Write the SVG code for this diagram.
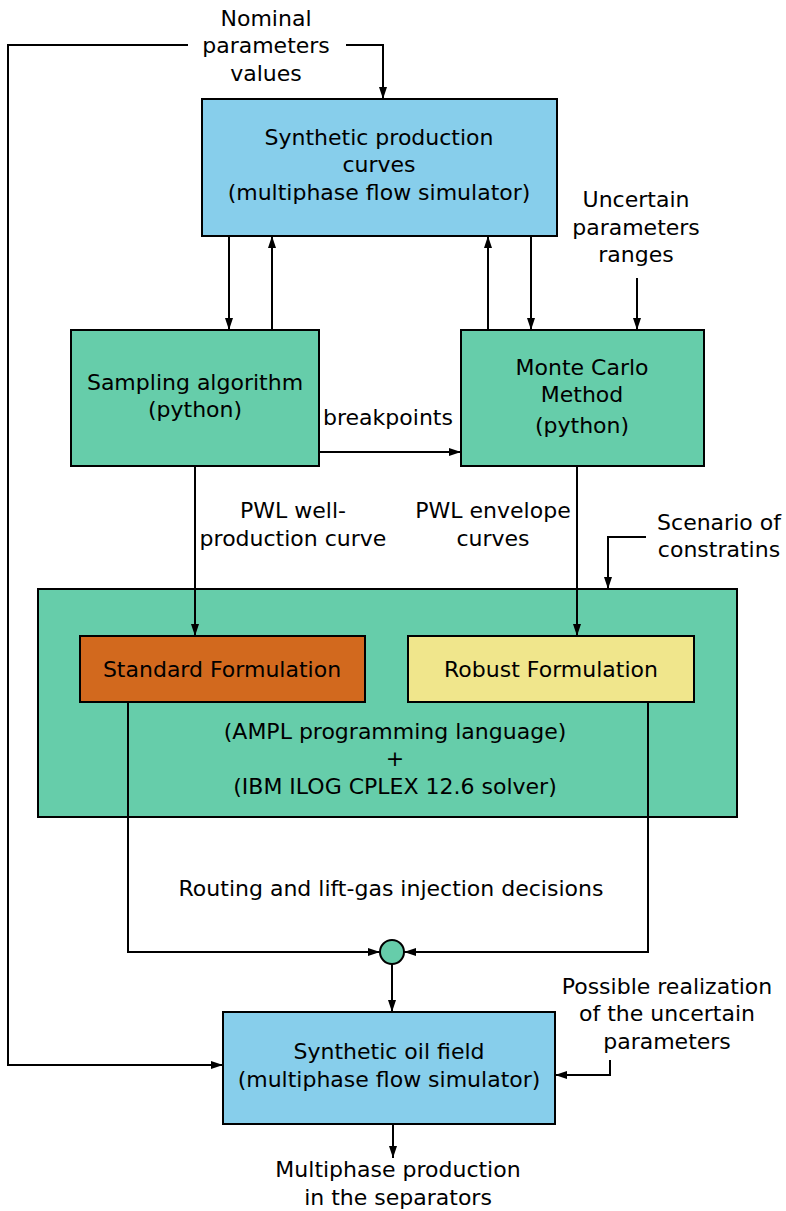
<svg xmlns="http://www.w3.org/2000/svg" width="786" height="1211" viewBox="0 0 786 1211">
<defs>
<marker id="ah" viewBox="0 0 12 10" refX="12" refY="5" markerWidth="12" markerHeight="10" markerUnits="userSpaceOnUse" orient="auto">
<path d="M0,1 L12,5 L0,9 z" fill="#000"/>
</marker>
<style>
.box{stroke:#000;stroke-width:2}
.blue{fill:#87CEEB}
.green{fill:#66CDAA}
.t{font-family:"DejaVu Sans",sans-serif;font-size:22px;fill:#000;text-anchor:middle}
.c{fill:none;stroke:#000;stroke-width:2;marker-end:url(#ah)}
</style>
</defs>
<rect width="786" height="1211" fill="#fff"/>
<g id="label-nominal"><text class="t" x="266" y="26">Nominal</text><text class="t" x="266" y="53">parameters</text><text class="t" x="266" y="81">values</text></g>
<g id="node-synthetic-curves">
<rect class="box blue" x="202" y="99" width="355" height="137"/>
<text class="t" x="379" y="145">Synthetic production</text>
<text class="t" x="379" y="172">curves</text>
<text class="t" x="379" y="200">(multiphase flow simulator)</text>
</g>
<g id="label-uncertain"><text class="t" x="636" y="207">Uncertain</text><text class="t" x="636" y="235">parameters</text><text class="t" x="636" y="262">ranges</text></g>
<g id="node-sampling">
<rect class="box green" x="71" y="330" width="248" height="136"/>
<text class="t" x="195" y="390">Sampling algorithm</text>
<text class="t" x="195" y="417">(python)</text>
</g>
<g id="node-montecarlo">
<rect class="box green" x="461" y="330" width="243" height="136"/>
<text class="t" x="582" y="375">Monte Carlo</text>
<text class="t" x="582" y="402">Method</text>
<text class="t" x="582" y="433">(python)</text>
</g>
<g id="label-breakpoints"><text class="t" x="388" y="425">breakpoints</text></g>
<g id="label-pwl-well"><text class="t" x="293" y="518">PWL well-</text><text class="t" x="293" y="546">production curve</text></g>
<g id="label-pwl-env"><text class="t" x="493" y="518">PWL envelope</text><text class="t" x="493" y="546">curves</text></g>
<g id="label-scenario"><text class="t" x="719" y="530">Scenario of</text><text class="t" x="719" y="557">constratins</text></g>
<g id="node-ampl">
<rect class="box green" x="38" y="589" width="699" height="228"/>
<text class="t" x="395" y="739">(AMPL programming language)</text>
<text class="t" x="395" y="766">+</text>
<text class="t" x="395" y="794">(IBM ILOG CPLEX 12.6 solver)</text>
</g>
<g id="node-standard">
<rect class="box" fill="#D2691E" x="80" y="636" width="285" height="66"/>
<text class="t" x="222" y="677">Standard Formulation</text>
</g>
<g id="node-robust">
<rect class="box" fill="#F0E68C" x="408" y="636" width="286" height="66"/>
<text class="t" x="551" y="677">Robust Formulation</text>
</g>
<g id="label-routing"><text class="t" x="391" y="896">Routing and lift-gas injection decisions</text></g>
<g id="label-possible"><text class="t" x="667" y="994">Possible realization</text><text class="t" x="667" y="1021">of the uncertain</text><text class="t" x="667" y="1049">parameters</text></g>
<g id="node-oilfield">
<rect class="box blue" x="223" y="1012" width="332" height="112"/>
<text class="t" x="389" y="1059">Synthetic oil field</text>
<text class="t" x="389" y="1087">(multiphase flow simulator)</text>
</g>
<g id="label-output"><text class="t" x="398" y="1177">Multiphase production</text><text class="t" x="398" y="1205">in the separators</text></g>
<g id="connectors">
<path class="c" d="M188,45 H8 V1065 H223"/>
<path class="c" d="M346,45 H383 V99"/>
<path class="c" d="M229,236 V330"/>
<path class="c" d="M272,330 V236"/>
<path class="c" d="M488,330 V236"/>
<path class="c" d="M531,236 V330"/>
<path class="c" d="M637,278 V330"/>
<path class="c" d="M319,452 H461"/>
<path class="c" d="M195,466 V636"/>
<path class="c" d="M577,466 V636"/>
<path class="c" d="M646,537 H608 V589"/>
<path class="c" d="M128,702 V952 H380"/>
<path class="c" d="M648,702 V952 H404"/>
<path class="c" d="M392,964 V1012"/>
<path class="c" d="M610,1060 V1075 H555"/>
<path class="c" d="M393,1124 V1158"/>
</g>
<g id="node-junction"><circle class="box green" cx="392" cy="952" r="12"/></g>
</svg>
